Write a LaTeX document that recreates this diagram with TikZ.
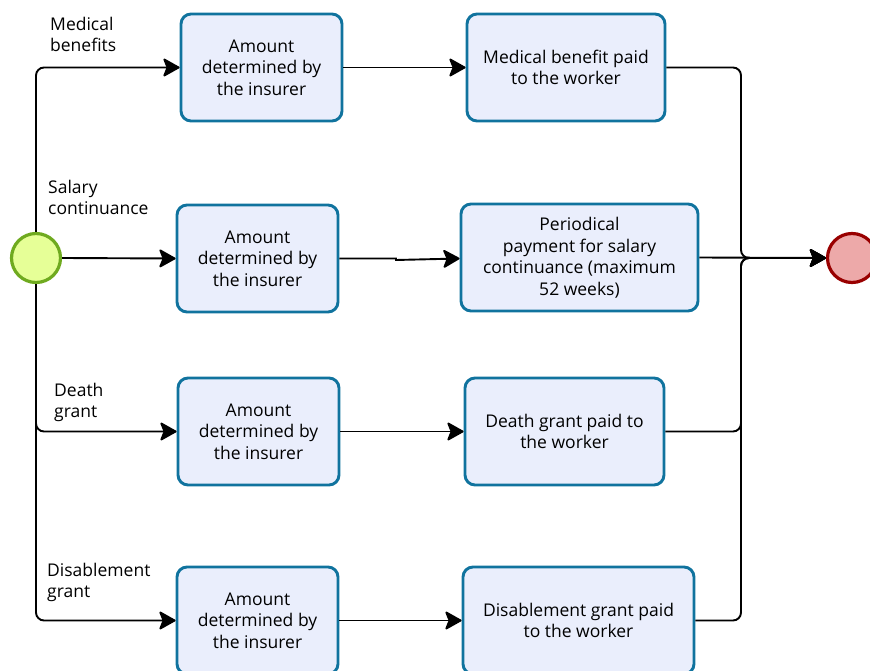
\documentclass[tikz,border=0pt]{standalone}
\usepackage{fontspec}
\setmainfont{Open Sans}
\usetikzlibrary{arrows.meta}
\definecolor{taskline}{HTML}{10739E}
\definecolor{taskfill}{HTML}{EAEEFC}
\definecolor{startline}{HTML}{6FAA1F}
\definecolor{startfill}{HTML}{E6FF97}
\definecolor{endline}{HTML}{990000}
\definecolor{endfill}{HTML}{EDA9A9}
\begin{document}
\begin{tikzpicture}[x=1pt,y=-1pt,
  every node/.style={font=\fontsize{17.5}{21.5}\selectfont},
  task/.style={draw=taskline,fill=taskfill,line width=2.9pt,rounded corners=10pt,
    align=center,inner sep=0pt},
  flow/.style={draw=black,line width=1.9pt,rounded corners=8pt,
    -{Stealth[length=18pt,width=20pt,inset=4pt,round=false]}},
  lbl/.style={align=left,anchor=north west,inner sep=0pt}]
\useasboundingbox (0,0) rectangle (870,671);
\clip (0,0) rectangle (870,671);

% events
\node[circle,draw=startline,fill=startfill,line width=3.2pt,minimum size=49pt,inner sep=0pt] (start) at (36,258) {};
\node[circle,draw=endline,fill=endfill,line width=3.2pt,minimum size=49pt,inner sep=0pt] (end) at (852,258) {};

% tasks
\node[task,minimum width=161pt,minimum height=107pt] (a1) at (261.5,67.5) {Amount\\determined by\\the insurer};
\node[task,minimum width=198pt,minimum height=107pt] (b1) at (566,67.5) {Medical benefit paid\\to the worker};
\node[task,minimum width=161pt,minimum height=107pt] (a2) at (257.5,258.5) {Amount\\determined by\\the insurer};
\node[task,minimum width=237pt,minimum height=107pt] (b2) at (579.5,257.5) {Periodical\\payment for salary\\continuance (maximum\\52 weeks)};
\node[task,minimum width=161pt,minimum height=107pt] (a3) at (258.5,431.5) {Amount\\determined by\\the insurer};
\node[task,minimum width=199pt,minimum height=107pt] (b3) at (564.5,431.5) {Death grant paid to\\the worker};
\node[task,minimum width=161pt,minimum height=107pt] (a4) at (257.5,620.5) {Amount\\determined by\\the insurer};
\node[task,minimum width=231pt,minimum height=107pt] (b4) at (578.5,620.5) {Disablement grant paid\\to the worker};

% branch labels
\node[lbl] (l1) at (50,17) {Medical\\benefits};
\node[lbl] (l2) at (48,180) {Salary\\continuance};
\node[lbl] (l3) at (54,383) {Death\\grant};
\node[lbl] (l4) at (47,563) {Disablement\\grant};

% outgoing branches
\draw[flow] (start.north) |- (a1.west);
\draw[flow] (start.east) -- (a2.west);
\draw[flow] (start.south) |- (a3.west);
\draw[flow] (start.south) |- (a4.west);

% task to task
\draw[flow] (a1.east) -- (b1.west);
\coordinate (jog) at (396,258.5);
\draw[flow,rounded corners=0pt] (a2.east) -- (jog) -- ([yshift=-1.5pt]jog) -- ([yshift=-1pt]b2.west);
\draw[flow] (a3.east) -- (b3.west);
\draw[flow] (a4.east) -- (b4.west);

% merge into end event
\coordinate (mx) at (741,258);
\draw[flow] (b1.east) -| (mx) -- (end.west);
\draw[flow] (b2.east) -- (end.west);
\draw[flow] (b3.east) -| (mx) -- (end.west);
\draw[flow] (b4.east) -| (mx) -- (end.west);
\end{tikzpicture}
\end{document}
